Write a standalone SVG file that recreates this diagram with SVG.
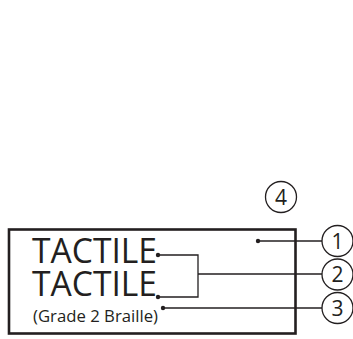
<svg xmlns="http://www.w3.org/2000/svg" width="353" height="339" viewBox="0 0 353 339">
<style>
.t{font-family:"Open Sans","Liberation Sans",sans-serif;fill:#231f20}
.c{fill:#fff;stroke:#231f20;stroke-width:1.3}
.l{fill:none;stroke:#231f20;stroke-width:1.3}
.d{fill:#231f20}
.n{font-family:"Open Sans","Liberation Sans",sans-serif;font-size:21px;fill:#231f20;text-anchor:middle}
</style>
<rect width="353" height="339" fill="#fff"/>
<g id="panel">
<rect x="9" y="229.5" width="286.5" height="104" fill="none" stroke="#231f20" stroke-width="2.6"/>
<text class="t" x="32" y="263" font-size="34" textLength="125" lengthAdjust="spacingAndGlyphs">TACTILE</text>
<text class="t" x="32" y="296" font-size="34" textLength="125" lengthAdjust="spacingAndGlyphs">TACTILE</text>
<text class="t" x="33" y="322" font-size="17" textLength="125" lengthAdjust="spacingAndGlyphs">(Grade 2 Braille)</text>
</g>
<g id="connectors">
<path class="l" d="M258 241H322.5"/>
<path class="l" d="M158 255H198V297H158M198 274H322.5"/>
<path class="l" d="M163 308H322.5"/>
<circle class="d" cx="258" cy="241" r="2.2"/>
<circle class="d" cx="158" cy="255" r="2.2"/>
<circle class="d" cx="158" cy="297" r="2.2"/>
<circle class="d" cx="163" cy="308" r="2.2"/>
</g>
<g id="c4"><circle class="c" cx="281" cy="197" r="15.5"/><text class="n" x="281" y="204.5">4</text></g>
<g id="c1"><circle class="c" cx="337.5" cy="241" r="15.5"/><text class="n" x="337.5" y="248.5">1</text></g>
<g id="c2"><circle class="c" cx="337.5" cy="274.5" r="15.5"/><text class="n" x="337.5" y="282">2</text></g>
<g id="c3"><circle class="c" cx="337.5" cy="308" r="15.5"/><text class="n" x="337.5" y="315.5">3</text></g>
</svg>
